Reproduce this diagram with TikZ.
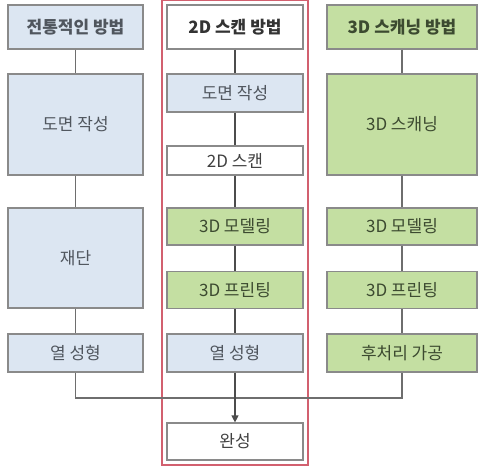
\documentclass[tikz,border=0pt]{standalone}
\usepackage{fontspec}
\setmainfont{Noto Sans CJK KR}
\usepackage{xcolor}
\usepackage{tikz}
\usetikzlibrary{arrows.meta,fit}

\definecolor{blu}{HTML}{DCE6F2}
\definecolor{grn}{HTML}{C4DFA2}
\definecolor{wht}{HTML}{FFFFFF}
\definecolor{boxline}{HTML}{8A8A8A}
\definecolor{redline}{HTML}{D2606F}
\definecolor{txtblu}{HTML}{50565E}
\definecolor{txtgrn}{HTML}{3C4A30}

\begin{document}
\begin{tikzpicture}[x=1pt,y=-1pt,
                    line width=1.2pt,
                    stp/.style n args={3}{draw=boxline,fill=#1,
                    minimum width=#2pt,
                    minimum height=#3pt,
                    inner sep=0pt,
                    font=\fontsize{17}{20}\selectfont,
                    text=txtblu,
                    rectangle},
                    hd/.style={font=\fontsize{17}{20}\selectfont\bfseries},
                    gtx/.style={text=txtgrn},
                    con/.style={draw=boxline!80!black},
                    mcon/.style={draw=black!70}]
    \useasboundingbox (0,0) rectangle (482,469);

    % traditional
    \node[stp={blu}{135}{44},hd] (l0) at (75.5,27) {전통적인 방법};
    \node[stp={blu}{135}{101}] (l1) at (75.5,124.5) {도면 작성};
    \node[stp={blu}{135}{100}] (l2) at (75.5,258) {재단};
    \node[stp={blu}{135}{38}] (l3) at (75.5,353) {열 성형};

    % 2D scan
    \node[stp={wht}{136}{44},hd,text=black!80] (m0) at (235,27) {2D 스캔 방법};
    \node[stp={blu}{136}{38}] (m1) at (235,93) {도면 작성};
    \node[stp={wht}{136}{29},text=black!75] (m2) at (235,160.5) {2D 스캔};
    \node[stp={grn}{136}{37},gtx] (m3) at (235,226.5) {3D 모델링};
    \node[stp={grn}{136}{37},gtx] (m4) at (235,290) {3D 프린팅};
    \node[stp={blu}{136}{38}] (m5) at (235,353) {열 성형};
    \node[stp={wht}{136}{37},text=black!75] (m6) at (235,441.5) {완성};
    \node[draw=redline,line width=1.3pt,inner sep=4.5pt,fit=(m0)(m6)] (frame) {};

    % 3D scan
    \node[stp={grn}{150}{44},hd,gtx] (r0) at (402,27) {3D 스캐닝 방법};
    \node[stp={grn}{150}{101},gtx] (r1) at (402,124.5) {3D 스캐닝};
    \node[stp={grn}{150}{37},gtx] (r2) at (402,226.5) {3D 모델링};
    \node[stp={grn}{150}{37},gtx] (r3) at (402,290) {3D 프린팅};
    \node[stp={grn}{150}{38},gtx] (r4) at (402,353) {후처리 가공};

    \foreach \a/\b in {l0/l1,l1/l2,l2/l3,r0/r1,r1/r2,r2/r3,r3/r4}
        \draw[con] (\a) -- (\b);
    \foreach \a/\b in {m0/m1,m1/m2,m2/m3,m3/m4,m4/m5}
        \draw[mcon] (\a) -- (\b);

    \coordinate (join) at (235,398);
    \draw[con] (l3.south) |- (join) -| (r4.south);
    \draw[mcon,-{Triangle[length=7pt,width=7pt]}] (m5.south) -- (m6.north);

\end{tikzpicture}
\end{document}
